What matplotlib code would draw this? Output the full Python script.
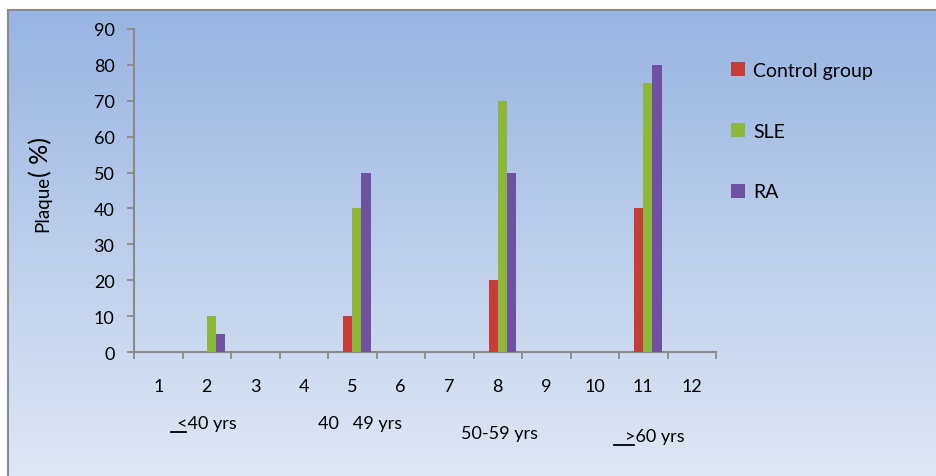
import numpy as np
import matplotlib
matplotlib.use("Agg")
import matplotlib.pyplot as plt
from matplotlib.colors import LinearSegmentedColormap
from matplotlib.lines import Line2D

plt.rcParams['font.family'] = ['Lato', 'DejaVu Sans']

# data
categories = list(range(1, 13))
control = [0, 0, 0, 0, 10, 0, 0, 20, 0, 0, 40, 0]
sle = [0, 10, 0, 0, 40, 0, 0, 70, 0, 0, 75, 0]
ra = [0, 5, 0, 0, 50, 0, 0, 50, 0, 0, 80, 0]
series_names = ['Control group', 'SLE', 'RA']
age_groups = ['<40 yrs', '40   49 yrs', '50-59 yrs', '>60 yrs']
yticks = list(range(0, 100, 10))

W, H = 936, 477
fig = plt.figure(figsize=(W / 100, H / 100), dpi=100)

# gradient background with grey border (left/top)
bg = fig.add_axes([8 / W, 0, 1 - 8 / W, (H - 11) / H], zorder=-5)
cmap = LinearSegmentedColormap.from_list('bg', ['#98b4e2', '#dfe7f4'])
bg.imshow(np.linspace(0, 1, 256).reshape(-1, 1), cmap=cmap, aspect='auto',
          extent=[0, 1, 0, 1], origin='upper')
bg.set_xticks([])
bg.set_yticks([])
for s in ['right', 'bottom']:
    bg.spines[s].set_visible(False)
for s in ['left', 'top']:
    bg.spines[s].set_color('#8a8a8a')
    bg.spines[s].set_linewidth(1.5)

ax = fig.add_axes([134 / W, 1 - 353 / H, (716 - 134) / W, (353 - 30) / H])
ax.patch.set_alpha(0)

x = np.array(categories, dtype=float)
w = 0.19
colors = ['#c63c38', '#8db63c', '#6f51a1']
for i, (vals, name, c) in enumerate(zip([control, sle, ra], series_names, colors)):
    ax.bar(x - w / 2 + i * w, vals, width=w, color=c, label=name, zorder=3)

ax.set_xlim(0.5, 12.5)
ax.set_ylim(0, 90)
ax.set_yticks(yticks)
ax.set_xticks(np.arange(0.5, 13, 1))
ax.set_xticklabels([])
ax.set_xticks(x, minor=True)
ax.set_xticklabels([str(c) for c in categories], minor=True)
ax.tick_params(axis='x', which='major', length=5, width=1.3, color='#8a8a8a', direction='out')
ax.tick_params(axis='x', which='minor', length=0, pad=19, labelsize=13)
ax.tick_params(axis='y', length=5, width=1.3, color='#8a8a8a', pad=9, labelsize=13)

for s in ['top', 'right']:
    ax.spines[s].set_visible(False)
for s in ['left', 'bottom']:
    ax.spines[s].set_color('#8a8a8a')
    ax.spines[s].set_linewidth(1.5)

# y label: "Plaque" with larger "( %)"
fig.text(43 / W, 1 - 204 / H, 'Plaque', rotation=90, ha='center', va='center', fontsize=13.5)
fig.text(41 / W, 1 - 157 / H, '( %)', rotation=90, ha='center', va='center', fontsize=18)

# age group captions under the axis (left x, centre y, underline span)
group_pos = [(177, 424), (318, 424), (461, 434), (625, 437)]
underlines = [(171, 186, 433), (None, None, None), (None, None, None), (614, 634, 446)]
for lab, (px, py), (u0, u1, uy) in zip(age_groups, group_pos, underlines):
    fig.text(px / W, 1 - py / H, lab, ha='left', va='center', fontsize=13)
    if u0 is not None:
        fig.add_artist(Line2D([u0 / W, u1 / W], [1 - uy / H, 1 - uy / H],
                              transform=fig.transFigure, color='black', lw=1.3))

fig.legend(loc='upper left', bbox_to_anchor=(731 / W, 1 - 63 / H), frameon=False,
           fontsize=14, handlelength=0.7, handleheight=0.7, handletextpad=0.45,
           labelspacing=2.25, borderpad=0, borderaxespad=0)

fig.savefig('out.png', dpi=100)
